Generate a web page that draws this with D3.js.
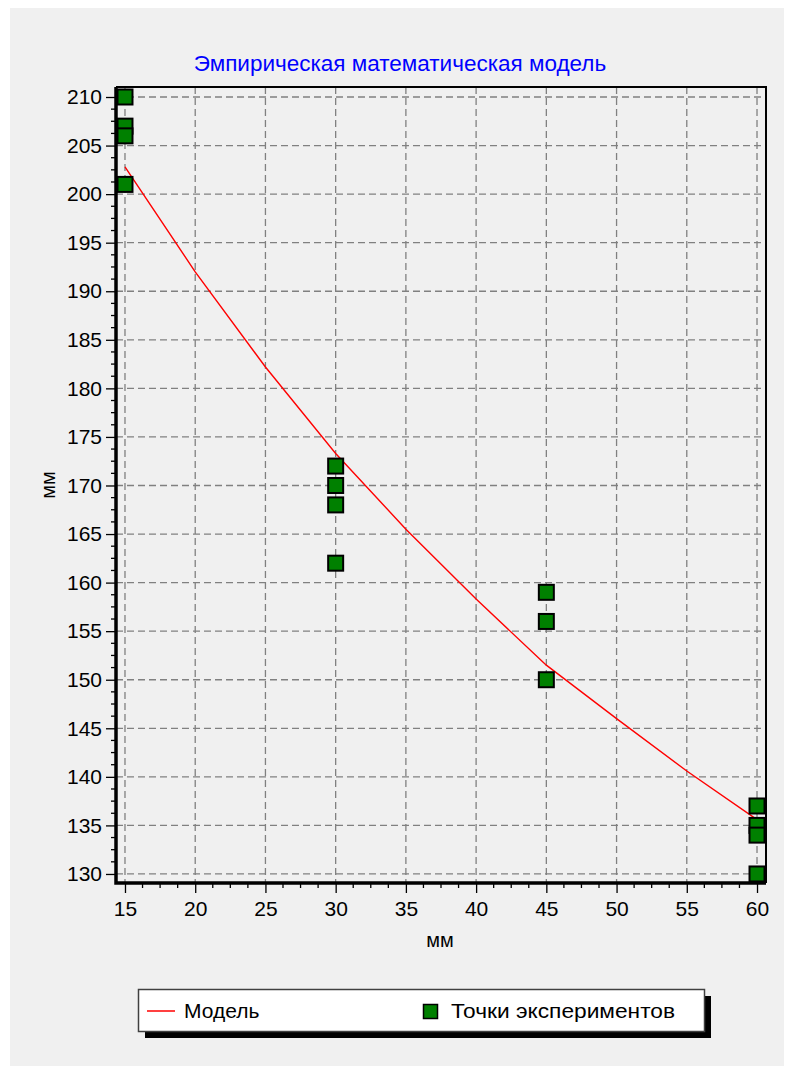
<!DOCTYPE html>
<html>
<head>
<meta charset="utf-8">
<script src="https://cdn.jsdelivr.net/npm/d3@7"></script>
<style>
    html, body { margin: 0; padding: 0; background: #ffffff; }
    #chartHolder { width: 790px; height: 1068px; }
    text { font-family: "Liberation Sans", Arial, sans-serif; }
</style>
</head>
<body>
<div id="chartHolder"></div>
<script>
// experiment points
const expX = [15, 15, 15, 15, 30, 30, 30, 30, 45, 45, 45, 60, 60, 60, 60];
const expY = [210, 207, 206, 201, 172, 170, 168, 162, 159, 156, 150, 137, 135, 134, 130];
// model curve
const modelX = [15, 20, 25, 30, 35, 40, 45, 50, 55, 60];
const modelY = [202.8, 192.0, 182.2, 173.3, 165.5, 158.3, 151.5, 146.0, 140.6, 135.6];
// axis ticks
const xTicks = [15, 20, 25, 30, 35, 40, 45, 50, 55, 60];
const yTicks = [130, 135, 140, 145, 150, 155, 160, 165, 170, 175, 180, 185, 190, 195, 200, 205, 210];

const titleText = 'Эмпирическая математическая модель';
const axisTitle = 'мм';
const legendNames = ['Модель', 'Точки экспериментов'];

const chartWidth = 790, chartHeight = 1068;
const plotLeft = 116, plotRight = 766, plotTop = 87, plotBottom = 883;

const svg = d3.select('#chartHolder').append('svg')
    .attr('xmlns', 'http://www.w3.org/2000/svg')
    .attr('width', chartWidth)
    .attr('height', chartHeight);

// panel background
svg.append('rect')
    .attr('x', 10).attr('y', 8)
    .attr('width', 774).attr('height', 1058)
    .attr('fill', '#f0f0f0');

const x = d3.scaleLinear().domain([14.36, 60.64]).range([plotLeft, plotRight]);
const y = d3.scaleLinear().domain([129.07, 211.03]).range([plotBottom, plotTop]);

// title
svg.append('text')
    .attr('x', 400).attr('y', 71)
    .attr('text-anchor', 'middle')
    .attr('fill', '#0000ff')
    .style('font-size', '22.5px')
    .text(titleText);

// grid
const grid = svg.append('g')
    .attr('stroke', '#808080')
    .attr('stroke-width', 1.3)
    .attr('stroke-dasharray', '7,4');
grid.selectAll('line.gx').data(xTicks).enter().append('line')
    .attr('x1', d => x(d)).attr('x2', d => x(d))
    .attr('y1', plotTop).attr('y2', plotBottom);
grid.selectAll('line.gy').data(yTicks).enter().append('line')
    .attr('x1', plotLeft).attr('x2', plotRight)
    .attr('y1', d => y(d)).attr('y2', d => y(d));

// minor ticks, three between each pair of majors
const minorX = [];
for (let i = 0; i < xTicks.length - 1; i++) {
    for (let k = 1; k < 4; k++) minorX.push(xTicks[i] + k * 1.25);
}
const minorY = [];
for (let i = 0; i < yTicks.length - 1; i++) {
    for (let k = 1; k < 4; k++) minorY.push(yTicks[i] + k * 1.25);
}

// x axis
const xAxis = svg.append('g')
    .attr('transform', 'translate(0,' + plotBottom + ')')
    .call(d3.axisBottom(x).tickValues(xTicks).tickSize(10).tickPadding(8).tickFormat(d3.format('d')));
xAxis.select('.domain').remove();
xAxis.selectAll('.tick line').attr('stroke', '#000').attr('stroke-width', 1.3);
xAxis.selectAll('.tick text').attr('fill', '#000').style('font-size', '21px');
svg.append('g').selectAll('line').data(minorX).enter().append('line')
    .attr('x1', d => x(d)).attr('x2', d => x(d))
    .attr('y1', plotBottom).attr('y2', plotBottom + 5)
    .attr('stroke', '#000').attr('stroke-width', 1.3);

// y axis
const yAxis = svg.append('g')
    .attr('transform', 'translate(' + plotLeft + ',0)')
    .call(d3.axisLeft(y).tickValues(yTicks).tickSize(10).tickPadding(4).tickFormat(d3.format('d')));
yAxis.select('.domain').remove();
yAxis.selectAll('.tick line').attr('stroke', '#000').attr('stroke-width', 1.3);
yAxis.selectAll('.tick text').attr('fill', '#000').style('font-size', '21px');
svg.append('g').selectAll('line').data(minorY).enter().append('line')
    .attr('x1', plotLeft - 5).attr('x2', plotLeft)
    .attr('y1', d => y(d)).attr('y2', d => y(d))
    .attr('stroke', '#000').attr('stroke-width', 1.3);

// axis titles
svg.append('text')
    .attr('x', 440).attr('y', 947)
    .attr('text-anchor', 'middle')
    .attr('fill', '#000')
    .style('font-size', '20px')
    .text(axisTitle);
svg.append('text')
    .attr('transform', 'translate(55,485) rotate(-90)')
    .attr('text-anchor', 'middle')
    .attr('fill', '#000')
    .style('font-size', '20px')
    .text(axisTitle);

// frame
svg.append('path')
    .attr('d', 'M' + plotLeft + ',' + plotTop + 'H' + plotRight + 'V' + plotBottom)
    .attr('fill', 'none').attr('stroke', '#000').attr('stroke-width', 2);
svg.append('path')
    .attr('d', 'M' + plotLeft + ',' + plotTop + 'V' + plotBottom + 'H' + plotRight)
    .attr('fill', 'none').attr('stroke', '#000').attr('stroke-width', 3.5);

// model line
const modelPoints = modelX.map((d, i) => [x(d), y(modelY[i])]);
svg.append('path')
    .data([modelPoints])
    .attr('d', d3.line().curve(d3.curveLinear))
    .attr('fill', 'none')
    .attr('stroke', '#ff0000')
    .attr('stroke-width', 1.4);

// experiment points
const sq = 15;
svg.append('g').selectAll('rect').data(expX).enter().append('rect')
    .attr('x', d => x(d) - sq / 2)
    .attr('y', (d, i) => y(expY[i]) - sq / 2)
    .attr('width', sq).attr('height', sq)
    .attr('fill', '#008000')
    .attr('stroke', '#000')
    .attr('stroke-width', 2);

// legend
svg.append('rect')
    .attr('x', 145).attr('y', 996)
    .attr('width', 566).attr('height', 42)
    .attr('fill', '#000');
svg.append('rect')
    .attr('x', 138.5).attr('y', 989.5)
    .attr('width', 566).attr('height', 42)
    .attr('fill', '#ffffff')
    .attr('stroke', '#404040')
    .attr('stroke-width', 1.5);
svg.append('line')
    .attr('x1', 147).attr('x2', 175)
    .attr('y1', 1011).attr('y2', 1011)
    .attr('stroke', '#ff0000').attr('stroke-width', 1.5);
svg.append('text')
    .attr('x', 184).attr('y', 1018)
    .attr('fill', '#000')
    .style('font-size', '21px')
    .text(legendNames[0]);
svg.append('rect')
    .attr('x', 423.5).attr('y', 1004.5)
    .attr('width', 14).attr('height', 14)
    .attr('fill', '#008000')
    .attr('stroke', '#000').attr('stroke-width', 1.5);
svg.append('text')
    .attr('x', 451).attr('y', 1018)
    .attr('fill', '#000')
    .attr('textLength', 224)
    .attr('lengthAdjust', 'spacingAndGlyphs')
    .style('font-size', '21px')
    .text(legendNames[1]);
</script>
</body>
</html>
